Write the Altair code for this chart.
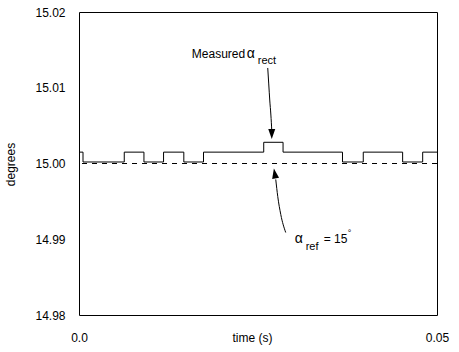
import altair as alt
import pandas as pd

# step signal (time in s, measured angle in degrees), step-after
step_t = [0.0, 0.00056, 0.00632, 0.00907, 0.01181, 0.01464, 0.01739, 0.0258, 0.0285, 0.0368, 0.0397, 0.0452, 0.0480, 0.05]
step_v = [15.0015, 15.0002, 15.0015, 15.0002, 15.0015, 15.0002, 15.0015, 15.0028, 15.0015, 15.0002, 15.0015, 15.0002, 15.0015, 15.0015]

ref_value = [15.0]

y_ticks = [14.98, 14.99, 15.00, 15.01, 15.02]
x_ticks = [0.0, 0.05]

# annotation texts (data coordinates)
ann_text = ["Measured", "α", "rect", "α", "ref", "= 15", "°"]
ann_x = [0.01576, 0.02343, 0.02497, 0.03013, 0.03166, 0.03417, 0.03752]
ann_y = [15.01393, 15.01393, 15.01314, 14.98950, 14.98858, 14.98950, 14.99043]
ann_size = [12, 14, 11, 14, 11, 12, 9]

# arrow paths (data coordinates)
arrow1_t = [0.02636, 0.02650, 0.02664, 0.02680, 0.02692]
arrow1_v = [15.01261, 15.01050, 15.00838, 15.00640, 15.00442]
arrow2_t = [0.02748, 0.02776, 0.02818, 0.02887]
arrow2_v = [14.99789, 14.99564, 14.99327, 14.99089]
head_t = [0.02692, 0.02734]
head_v = [15.00390, 14.99868]
head_shape = ["down", "up"]

step_df = pd.DataFrame({"t": step_t, "v": step_v})
ref_df = pd.DataFrame({"v": ref_value})
ann_df = pd.DataFrame({"t": ann_x, "v": ann_y, "label": ann_text, "size": ann_size})
a1 = pd.DataFrame({"t": arrow1_t, "v": arrow1_v, "o": list(range(len(arrow1_t)))})
a2 = pd.DataFrame({"t": arrow2_t, "v": arrow2_v, "o": list(range(len(arrow2_t)))})
heads = pd.DataFrame({"t": head_t, "v": head_v, "dir": head_shape})

FONT = "Liberation Sans"

xscale = alt.Scale(domain=[0, 0.05], nice=False, zero=False)
yscale = alt.Scale(domain=[14.98, 15.02], nice=False, zero=False)

x_enc = alt.X(
    "t:Q", scale=xscale,
    axis=alt.Axis(
        values=x_ticks, labelExpr="datum.value == 0 ? '0.0' : '0.05'",
        title="time (s)", titleFontWeight="normal", titleFontSize=12, titleFont=FONT,
        titleX=173, titleY=17, titleBaseline="top", titleAlign="center",
        labelFont=FONT, labelFontSize=12, labelPadding=17, labelColor="black",
        labelBaseline="top", labelFlush=False,
        ticks=False, domain=False, grid=False, titleColor="black",
    ),
)
y_enc = alt.Y(
    "v:Q", scale=yscale,
    axis=alt.Axis(
        values=y_ticks, format=".2f",
        title="degrees", titleFontWeight="normal", titleFontSize=12, titleFont=FONT,
        titleX=-69, titleY=152, titleAngle=-90, titleAlign="center", titleBaseline="middle",
        labelFont=FONT, labelFontSize=12, labelPadding=14, labelColor="black",
        labelFlush=False,
        ticks=False, domain=False, grid=False, titleColor="black",
    ),
)

step = alt.Chart(step_df).mark_line(interpolate="step-after", color="black", strokeWidth=1).encode(
    x=x_enc, y=y_enc
)

ref = alt.Chart(ref_df).mark_rule(color="black", strokeWidth=1, strokeDash=[5, 5]).encode(
    y=alt.Y("v:Q", scale=yscale)
)

texts = alt.Chart(ann_df).mark_text(align="left", baseline="alphabetic", font=FONT, color="black").encode(
    x=alt.X("t:Q", scale=xscale),
    y=alt.Y("v:Q", scale=yscale),
    text="label:N",
    size=alt.Size("size:Q", scale=None, legend=None),
)

arr1 = alt.Chart(a1).mark_line(color="black", strokeWidth=1, interpolate="monotone").encode(
    x=alt.X("t:Q", scale=xscale), y=alt.Y("v:Q", scale=yscale), order="o:Q"
)
arr2 = alt.Chart(a2).mark_line(color="black", strokeWidth=1, interpolate="monotone").encode(
    x=alt.X("t:Q", scale=xscale), y=alt.Y("v:Q", scale=yscale), order="o:Q"
)

head_down = alt.Chart(heads).transform_filter(alt.datum.dir == "down").mark_point(
    shape="M -0.7 -1 L 0.7 -1 L 0 1 Z", size=100, filled=True, color="black", opacity=1
).encode(x=alt.X("t:Q", scale=xscale), y=alt.Y("v:Q", scale=yscale))
head_up = alt.Chart(heads).transform_filter(alt.datum.dir == "up").mark_point(
    shape="M -0.7 1 L 0.7 1 L 0 -1 Z", size=100, filled=True, color="black", opacity=1, angle=350
).encode(x=alt.X("t:Q", scale=xscale), y=alt.Y("v:Q", scale=yscale))

chart = alt.layer(step, ref, arr1, arr2, head_down, head_up, texts).properties(
    width=358, height=303,
    autosize=alt.AutoSizeParams(type="none"),
    padding={"left": 79, "top": 12, "right": 22, "bottom": 37},
    background="white",
).configure_view(stroke="black", strokeWidth=1)

chart.save("out.html", embed_options={"renderer": "svg", "actions": False})
